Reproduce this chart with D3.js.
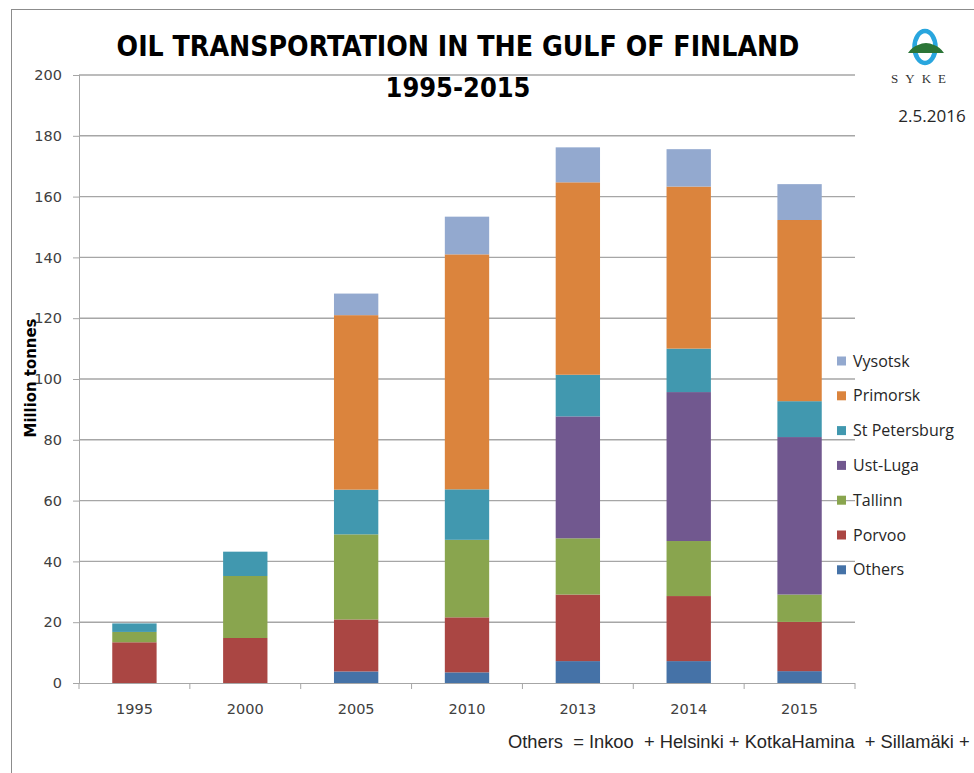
<!DOCTYPE html>
<html>
<head>
<meta charset="utf-8">
<script src="https://cdn.jsdelivr.net/npm/d3@7"></script>
<style>
  body { margin: 0; background: #fff; }
  svg { display: block; }
</style>
</head>
<body>
<div id="chart"></div>
<script>
// data (million tonnes)
var years = ["1995", "2000", "2005", "2010", "2013", "2014", "2015"];
var others       = [0,    0,    3.8,  3.5,  7.2,  7.2,  3.9];
var porvoo       = [13.4, 14.8, 17.1, 18.1, 21.9, 21.4, 16.2];
var tallinn      = [3.4,  20.4, 28.0, 25.5, 18.5, 18.1, 9.0];
var ustLuga      = [0,    0,    0,    0,    40.1, 49.0, 51.8];
var stPetersburg = [2.8,  8.0,  14.7, 16.6, 13.7, 14.3, 11.8];
var primorsk     = [0,    0,    57.4, 77.3, 63.3, 53.3, 59.6];
var vysotsk      = [0,    0,    7.1,  12.4, 11.5, 12.3, 11.8];

var seriesNames = ["Others", "Porvoo", "Tallinn", "Ust-Luga", "St Petersburg", "Primorsk", "Vysotsk"];
var seriesValues = [others, porvoo, tallinn, ustLuga, stPetersburg, primorsk, vysotsk];
var colors = ["#4572a7", "#aa4643", "#89a54e", "#71588f", "#4198af", "#db843d", "#93a9cf"];
var yTicks = [0, 20, 40, 60, 80, 100, 120, 140, 160, 180, 200];

var W = 974, H = 773;
var plot = {left: 79, right: 855, top: 75, bottom: 683};

var svg = d3.select("#chart").append("svg")
    .attr("width", W)
    .attr("height", H);

// outer frame of the chart area
svg.append("rect")
    .attr("x", 11.5).attr("y", 9.5)
    .attr("width", 1000).attr("height", 800)
    .attr("fill", "none")
    .attr("stroke", "#8c8c8c");

// build table for the stack
var table = years.map(function (yr, i) {
    var row = {year: yr};
    seriesNames.forEach(function (n, s) { row[n] = seriesValues[s][i]; });
    return row;
});
var stacked = d3.stack().keys(seriesNames)(table);

var x = d3.scaleBand()
    .domain(years)
    .range([plot.left, plot.right])
    .paddingInner(0.6)
    .paddingOuter(0.3);

var y = d3.scaleLinear()
    .domain([0, 200])
    .range([plot.bottom, plot.top]);

// gridlines
svg.append("g")
    .selectAll("line")
    .data(yTicks.slice(1))
    .enter().append("line")
    .attr("x1", plot.left).attr("x2", plot.right)
    .attr("y1", function (d) { return y(d); })
    .attr("y2", function (d) { return y(d); })
    .attr("stroke", "#a6a6a6")
    .attr("stroke-width", 1.4);

// y axis
var yAxis = svg.append("g")
    .attr("transform", "translate(" + plot.left + ",0)")
    .call(d3.axisLeft(y).tickValues(yTicks).tickSize(6).tickPadding(11));
yAxis.select(".domain").remove();
yAxis.selectAll(".tick line").attr("stroke", "#a6a6a6");
yAxis.selectAll(".tick text")
    .attr("fill", "#404040")
    .style("font-family", "'DejaVu Sans', Verdana, sans-serif")
    .style("font-size", "14.5px");

svg.append("line")
    .attr("x1", plot.left + 0.5).attr("x2", plot.left + 0.5)
    .attr("y1", plot.top).attr("y2", plot.bottom)
    .attr("stroke", "#a6a6a6");

// bars
svg.append("g")
    .selectAll("g")
    .data(stacked)
    .enter().append("g")
    .attr("fill", function (d, i) { return colors[i]; })
    .selectAll("rect")
    .data(function (d) { return d; })
    .enter().append("rect")
    .filter(function (d) { return d[1] - d[0] > 0; })
    .attr("x", function (d) { return x(d.data.year); })
    .attr("width", x.bandwidth())
    .attr("y", function (d) { return y(d[1]); })
    .attr("height", function (d) { return y(d[0]) - y(d[1]); });

// x axis line + ticks between categories
svg.append("line")
    .attr("x1", plot.left).attr("x2", plot.right)
    .attr("y1", plot.bottom + 0.5).attr("y2", plot.bottom + 0.5)
    .attr("stroke", "#a6a6a6");

var step = x.step();
var bounds = d3.range(years.length + 1).map(function (i) { return plot.left + i * step; });
svg.append("g")
    .selectAll("line")
    .data(bounds)
    .enter().append("line")
    .attr("x1", function (d) { return d; })
    .attr("x2", function (d) { return d; })
    .attr("y1", plot.bottom).attr("y2", plot.bottom + 6)
    .attr("stroke", "#a6a6a6");

svg.append("g")
    .selectAll("text")
    .data(years)
    .enter().append("text")
    .attr("x", function (d) { return x(d) + x.bandwidth() / 2; })
    .attr("y", 714)
    .attr("text-anchor", "middle")
    .attr("fill", "#404040")
    .style("font-family", "'DejaVu Sans', Verdana, sans-serif")
    .style("font-size", "14.5px")
    .text(function (d) { return d; });

// scale a text's font size so it spans a given width
function fitWidth(sel, target) {
    var fs = parseFloat(sel.style("font-size"));
    var w = sel.node().getComputedTextLength();
    sel.style("font-size", (fs * target / w) + "px");
}

// y axis title
var yTitle = svg.append("text")
    .attr("transform", "translate(36,378) rotate(-90)")
    .attr("text-anchor", "middle")
    .attr("fill", "#000")
    .style("font-family", "'Liberation Sans Narrow', 'DejaVu Sans Condensed', sans-serif")
    .style("font-weight", "bold")
    .style("font-size", "14px")
    .text("Million tonnes");
fitWidth(yTitle, 119);

// title
var titleFont = "'Liberation Sans Narrow', 'DejaVu Sans Condensed', sans-serif";
var t1 = svg.append("text")
    .attr("x", 458).attr("y", 56)
    .attr("text-anchor", "middle")
    .style("font-family", titleFont)
    .style("font-weight", "bold")
    .style("font-size", "30px")
    .text("OIL TRANSPORTATION IN THE GULF OF FINLAND");
fitWidth(t1, 683);
var t2 = svg.append("text")
    .attr("x", 458).attr("y", 97)
    .attr("text-anchor", "middle")
    .style("font-family", titleFont)
    .style("font-weight", "bold")
    .style("font-size", "30px")
    .text("1995-2015");
fitWidth(t2, 145);

// legend (top entry = last series)
var legend = svg.append("g")
    .selectAll("g")
    .data(seriesNames.slice().reverse())
    .enter().append("g")
    .attr("transform", function (d, i) { return "translate(837," + (361 + i * 34.8) + ")"; });
legend.append("rect")
    .attr("x", 0).attr("y", -4.5)
    .attr("width", 9).attr("height", 9)
    .attr("fill", function (d) { return colors[seriesNames.indexOf(d)]; });
legend.append("text")
    .attr("x", 16).attr("y", 5.5)
    .attr("fill", "#262626")
    .style("font-family", "'Open Sans', sans-serif")
    .style("font-size", "16px")
    .text(function (d) { return d; });

// SYKE logo
var logo = svg.append("g");
logo.append("ellipse")
    .attr("cx", 925).attr("cy", 47)
    .attr("rx", 10.5).attr("ry", 16)
    .attr("fill", "none")
    .attr("stroke", "#29a6de")
    .attr("stroke-width", 4.5);
logo.append("path")
    .attr("d", "M908,53 Q912,47 918,45 Q926,41 934,45 Q940,47 944,53 Z")
    .attr("fill", "#2b7537");
logo.append("text")
    .attr("x", 922).attr("y", 83)
    .attr("text-anchor", "middle")
    .attr("fill", "#333")
    .style("font-family", "'Liberation Serif', 'DejaVu Serif', serif")
    .style("font-size", "13px")
    .style("letter-spacing", "7px")
    .text("SYKE");

svg.append("text")
    .attr("x", 932).attr("y", 122)
    .attr("text-anchor", "middle")
    .attr("fill", "#262626")
    .style("font-family", "'Open Sans', sans-serif")
    .style("font-size", "17px")
    .text("2.5.2016");

// footnote
var foot = svg.append("text")
    .attr("x", 508).attr("y", 748)
    .attr("fill", "#262626")
    .style("font-family", "'Liberation Sans', Arial, sans-serif")
    .style("font-size", "16px")
    .style("white-space", "pre")
    .text("Others  = Inkoo  + Helsinki + KotkaHamina  + Sillamäki +");
fitWidth(foot, 462);
</script>
</body>
</html>
